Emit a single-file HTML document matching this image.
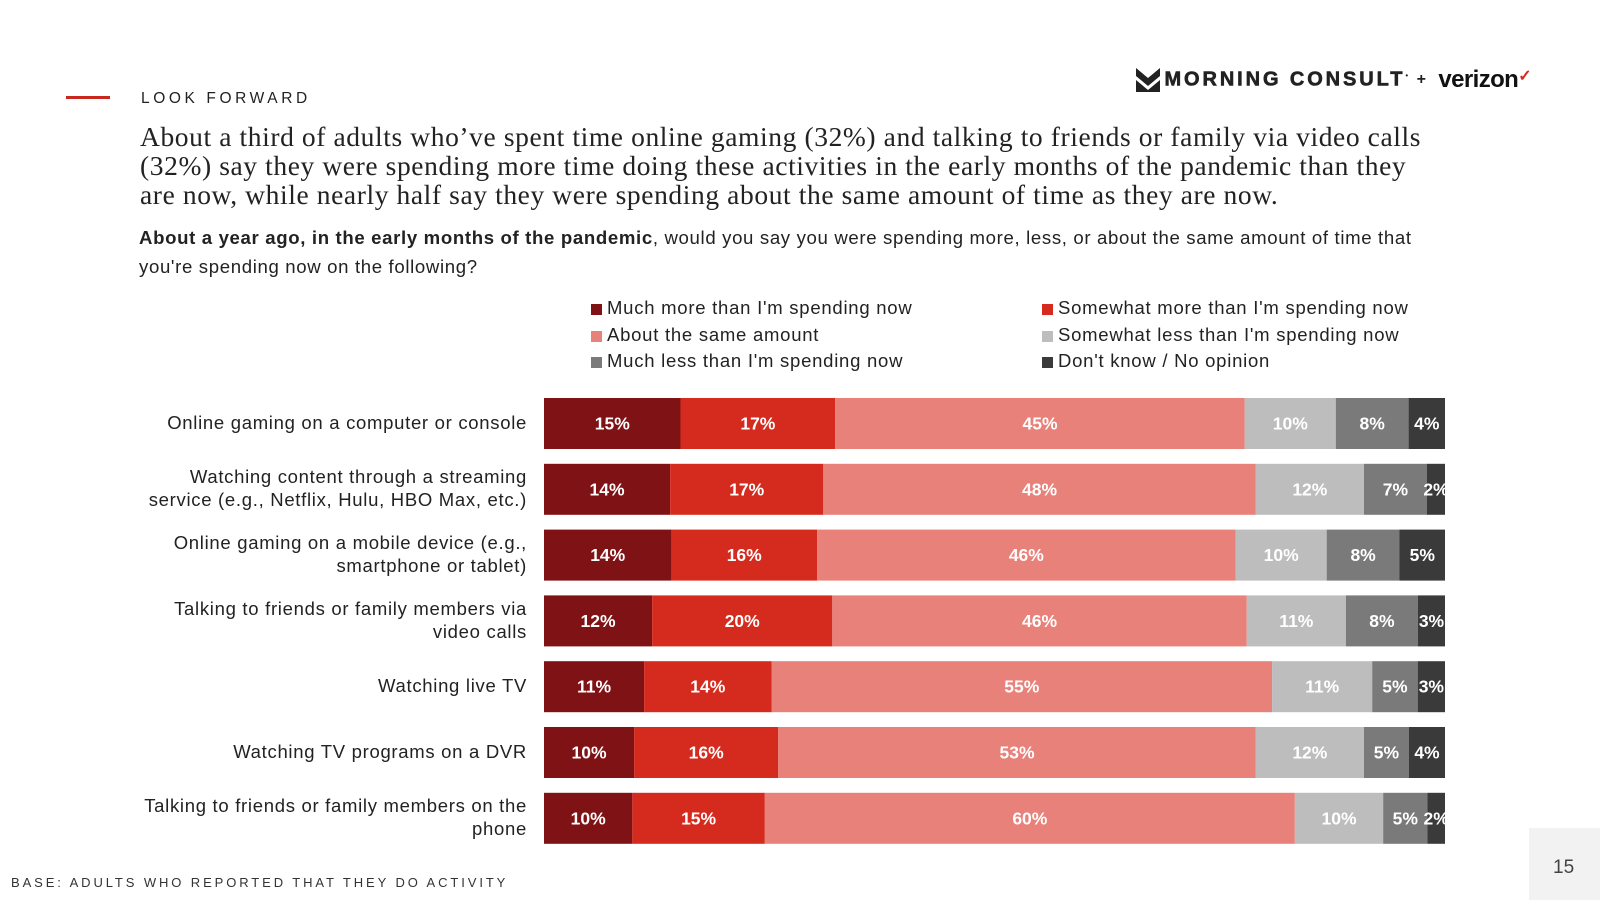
<!DOCTYPE html>
<html><head><meta charset="utf-8">
<style>
body{margin:0;width:1600px;height:900px;background:#fff;position:relative;overflow:hidden;font-family:"Liberation Sans",sans-serif;color:#222}
.abs{position:absolute}
#title{left:140px;top:122px;width:1440px;white-space:nowrap;font-family:"Liberation Serif",serif;font-size:27.5px;letter-spacing:0.6px;line-height:29px;color:#222}
#sub{left:139px;top:223px;width:1440px;white-space:nowrap;font-size:18.6px;line-height:29px;letter-spacing:0.65px;color:#222}
.leg{font-size:18.5px;letter-spacing:0.75px;color:#222;white-space:nowrap}
.leg i{display:inline-block;width:11px;height:11px;margin-right:5px;vertical-align:-1px}
.cat{right:1073px;text-align:right;font-size:18.5px;letter-spacing:0.7px;line-height:23px;color:#222;width:460px}
</style></head><body>
<div class="abs" style="left:66px;top:96px;width:44px;height:3px;background:#c8281e"></div>
<div class="abs" style="left:141px;top:90px;font-size:15.5px;letter-spacing:3.6px;color:#222">LOOK FORWARD</div>
<div class="abs" style="left:1136px;top:66px;height:26px;white-space:nowrap">
<svg width="24" height="24" style="vertical-align:middle"><path d="M0 0 L12 10 L24 0 V8 L12 18 L0 8Z M0 12 L12 22 L24 12 V24 H0Z" fill="#222"/></svg>
<span style="font-weight:900;font-size:20px;letter-spacing:2.9px;color:#222;vertical-align:middle;-webkit-text-stroke:0.6px #222">MORNING CONSULT</span><sup style="font-size:8px">•</sup>
<span style="font-size:16px;font-weight:bold;margin:0 8px 0 4px;vertical-align:middle">+</span>
<span style="font-weight:bold;font-size:24px;letter-spacing:-0.6px;color:#111;vertical-align:middle">verizon<span style="color:#d52b1e;font-size:16px;vertical-align:6px">✓</span></span>
</div>
<div id="title" class="abs">About a third of adults who’ve spent time online gaming (32%) and talking to friends or family via video calls<br>(32%) say they were spending more time doing these activities in the early months of the pandemic than they<br>are now, while nearly half say they were spending about the same amount of time as they are now.</div>
<div id="sub" class="abs"><b>About a year ago, in the early months of the pandemic</b>, would you say you were spending more, less, or about the same amount of time that<br>you're spending now on the following?</div>
<div id="legend"></div>
<svg id="chart" class="abs" style="left:0;top:0" width="1600" height="900"></svg>
<div id="cats"></div>
<div class="abs" style="left:11px;top:875px;font-size:13px;letter-spacing:2.9px;color:#333">BASE: ADULTS WHO REPORTED THAT THEY DO ACTIVITY</div>
<div class="abs" style="left:1529px;top:828px;width:71px;height:72px;background:#f2f2f2"></div>
<div class="abs" style="left:1553px;top:857px;font-size:19px;color:#444">15</div>
<script>
const categories=["Online gaming on a computer or console","Watching content through a streaming service (e.g., Netflix, Hulu, HBO Max, etc.)","Online gaming on a mobile device (e.g., smartphone or tablet)","Talking to friends or family members via video calls","Watching live TV","Watching TV programs on a DVR","Talking to friends or family members on the phone"];
const catLines=[["Online gaming on a computer or console"],["Watching content through a streaming","service (e.g., Netflix, Hulu, HBO Max, etc.)"],["Online gaming on a mobile device (e.g.,","smartphone or tablet)"],["Talking to friends or family members via","video calls"],["Watching live TV"],["Watching TV programs on a DVR"],["Talking to friends or family members on the","phone"]];
const seriesNames=["Much more than I'm spending now","Somewhat more than I'm spending now","About the same amount","Somewhat less than I'm spending now","Much less than I'm spending now","Don't know / No opinion"];
const muchMore=[15,14,14,12,11,10,10];
const somewhatMore=[17,17,16,20,14,16,15];
const aboutSame=[45,48,46,46,55,53,60];
const somewhatLess=[10,12,10,11,11,12,10];
const muchLess=[8,7,8,8,5,5,5];
const dontKnow=[4,2,5,3,3,4,2];
const series=[muchMore,somewhatMore,aboutSame,somewhatLess,muchLess,dontKnow];
const colors=["#7f1214","#d52b1e","#e8817a","#bdbdbd","#7a7a7a","#3a3a3a"];
const X0=544,X1=1445,Y0=398,STEP=65.8,BH=51;
const xs=(cum,total)=>X0+(X1-X0)*cum/total;
const ys=i=>Y0+i*STEP;
const svg=document.getElementById('chart');
const NS="http://www.w3.org/2000/svg";
categories.forEach((c,i)=>{
  const total=series.reduce((a,s)=>a+s[i],0);
  let cum=0;
  series.forEach((s,k)=>{
    const v=s[i];
    const r=document.createElementNS(NS,'rect');
    r.setAttribute('x',xs(cum,total));r.setAttribute('y',ys(i));
    r.setAttribute('width',xs(cum+v,total)-xs(cum,total));r.setAttribute('height',BH);
    r.setAttribute('fill',colors[k]);
    
    
    svg.appendChild(r);
    const t=document.createElementNS(NS,'text');
    t.setAttribute('x',xs(cum+v/2,total));t.setAttribute('y',ys(i)+BH/2+6);
    t.setAttribute('text-anchor','middle');t.setAttribute('fill','#fff');
    t.setAttribute('font-size','17.5');t.setAttribute('font-weight','bold');
    t.setAttribute('font-family','Liberation Sans, sans-serif');
    t.textContent=v+'%';
    
    
    svg.appendChild(t);
    cum+=v;
  });
  const d=document.createElement('div');
  d.className='abs cat';
  d.style.top=(ys(i)+BH/2-catLines[i].length*11.5-1)+'px';
  d.innerHTML=catLines[i].join('<br>');
  
  
  document.getElementById('cats').appendChild(d);
});
const legPos=[[591,308],[1042,308],[591,335],[1042,335],[591,361],[1042,361]];
seriesNames.forEach((n,k)=>{
  const d=document.createElement('div');
  d.className='abs leg';
  d.style.left=legPos[k][0]+'px';d.style.top=(legPos[k][1]-11)+'px';
  d.innerHTML='<i style="background:'+colors[k]+'"></i>'+n;
  
  
  document.getElementById('legend').appendChild(d);
});
</script>
</body></html>
